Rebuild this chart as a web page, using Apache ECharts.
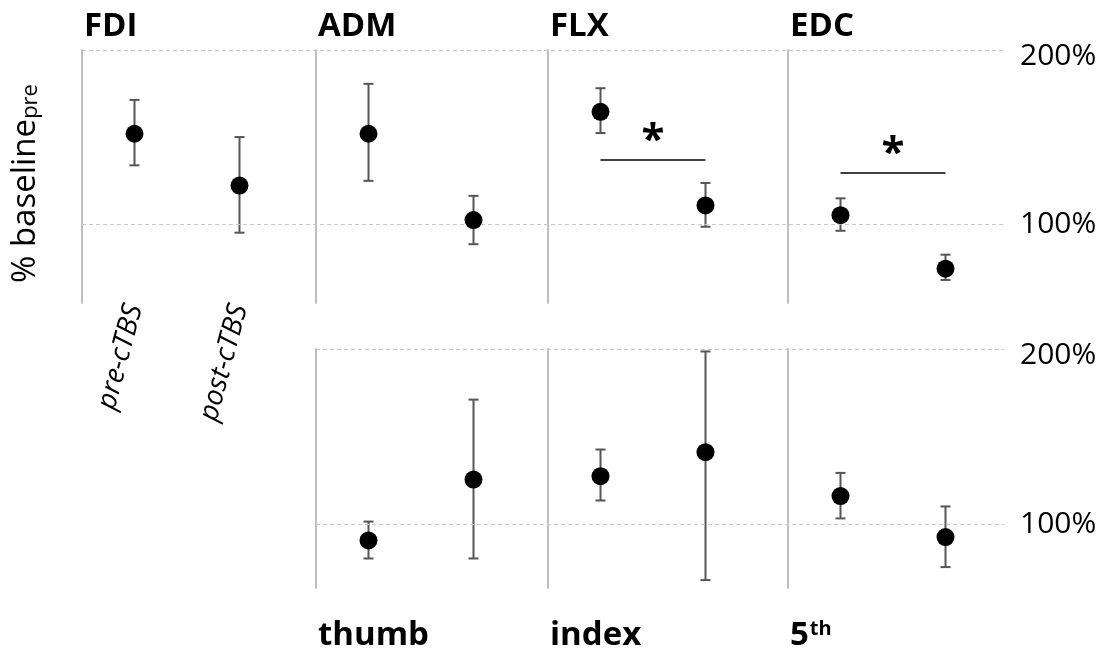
<!DOCTYPE html>
<html>
<head>
<meta charset="utf-8">
<script src="https://cdn.jsdelivr.net/npm/echarts@6/dist/echarts.min.js"></script>
<style>
html, body { margin: 0; padding: 0; background: #fff; }
#main { width: 1108px; height: 655px; }
</style>
</head>
<body>
<div id="main"></div>
<script>
// muscles (top row) and fingers (bottom row)
var musclesTop = ['FDI', 'ADM', 'FLX', 'EDC'];
var fingersBottom = ['thumb', 'index', '5th'];
var phases = ['pre-cTBS', 'post-cTBS'];

// mean % baseline, [pre, post]
var meanTop = [[152.0, 122.3], [152.0, 102.5], [164.6, 110.9], [105.3, 74.7]];
var lowTop = [[133.9, 95.3], [125.0, 88.7], [152.4, 98.7], [96.4, 68.2]];
var highTop = [[171.4, 150.1], [180.6, 116.4], [178.1, 123.8], [115.0, 82.7]];

var meanBottom = [[91.1, 125.7], [127.6, 141.3], [116.3, 93.0]];
var lowBottom = [[80.8, 80.8], [113.8, 68.5], [103.6, 75.9]];
var highBottom = [[101.8, 171.2], [142.8, 198.6], [129.5, 110.4]];

// significance bars
var sigPanels = ['FLX', 'EDC'];
var sigLevels = [137.1, 129.5];
var sigMarks = ['*', '*'];

var tickValues = [100, 200];
var tickLabels = ['100%', '200%'];

var FONT = 'Open Sans';

function p1() {
	var myChart = echarts.init(document.getElementById('main'));
	var colLeft = [82, 316, 548, 788];
	var rows = [
		{ top: 50, height: 253, min: 55 },
		{ top: 349, height: 239, min: 64 }
	];

	var panels = [];
	for (var i = 0; i < musclesTop.length; i++) {
		panels.push({ name: musclesTop[i], col: i, row: 0, mean: meanTop[i], lo: lowTop[i], hi: highTop[i] });
	}
	for (var j = 0; j < fingersBottom.length; j++) {
		panels.push({ name: fingersBottom[j], col: j + 1, row: 1, mean: meanBottom[j], lo: lowBottom[j], hi: highBottom[j] });
	}

	var grid = [], xAxis = [], yAxis = [], series = [], title = [];

	function renderErr(params, api) {
		var x = api.value(0);
		var a = api.coord([x, api.value(2)]);
		var b = api.coord([x, api.value(1)]);
		var hw = 5;
		var st = { stroke: '#555', lineWidth: 2 };
		return {
			type: 'group',
			children: [
				{ type: 'line', shape: { x1: a[0], y1: a[1], x2: b[0], y2: b[1] }, style: st },
				{ type: 'line', shape: { x1: a[0] - hw, y1: a[1], x2: a[0] + hw, y2: a[1] }, style: st },
				{ type: 'line', shape: { x1: b[0] - hw, y1: b[1], x2: b[0] + hw, y2: b[1] }, style: st }
			]
		};
	}

	panels.forEach(function(p, k) {
		var r = rows[p.row];
		grid.push({ left: colLeft[p.col], top: r.top, width: 210, height: r.height });
		xAxis.push({
			type: 'category',
			gridIndex: k,
			data: phases,
			boundaryGap: true,
			axisLine: { show: false },
			axisTick: { show: false },
			axisLabel: {
				show: k === 0,
				interval: 0,
				rotate: 75,
				margin: 2,
				fontStyle: 'italic',
				fontFamily: FONT,
				fontSize: 28,
				color: '#000'
			}
		});
		var ya = {
			type: 'value',
			gridIndex: k,
			min: r.min,
			max: 200,
			axisLine: { show: true, lineStyle: { color: '#bfbfbf', width: 2 } },
			axisTick: { show: false },
			axisLabel: { show: false },
			splitLine: { show: false }
		};
		if (k === 0) {
			ya.name = '% baseline{sub|pre}';
			ya.nameLocation = 'middle';
			ya.nameRotate = 90;
			ya.nameGap = 40;
			ya.nameTextStyle = {
				fontFamily: FONT,
				fontSize: 33,
				color: '#000',
				padding: [0, 14, 0, 0],
				rich: {
					sub: { fontFamily: FONT, fontSize: 22, color: '#000', verticalAlign: 'bottom', padding: [10, 0, 0, 0] }
				}
			};
		}
		yAxis.push(ya);

		var errData = [], dots = [];
		for (var c = 0; c < phases.length; c++) {
			errData.push([c, p.lo[c], p.hi[c]]);
			dots.push([c, p.mean[c]]);
		}
		series.push({
			type: 'custom',
			xAxisIndex: k,
			yAxisIndex: k,
			renderItem: renderErr,
			data: errData,
			z: 3,
			silent: true
		});
		var sc = {
			type: 'scatter',
			xAxisIndex: k,
			yAxisIndex: k,
			symbolSize: 18,
			itemStyle: { color: '#000', opacity: 1 },
			data: dots,
			z: 5
		};
		var si = sigPanels.indexOf(p.name);
		if (si >= 0) {
			sc.markLine = {
				silent: true,
				symbol: 'none',
				lineStyle: { color: '#000', width: 1.5, type: 'solid' },
				label: {
					show: true,
					position: 'middle',
					formatter: sigMarks[si],
					fontFamily: FONT,
					fontSize: 42,
					fontWeight: 'bold',
					color: '#000',
					distance: -2
				},
				data: [[{ coord: [0, sigLevels[si]] }, { coord: [1, sigLevels[si]] }]]
			};
		}
		series.push(sc);

		var t = p.name === '5th' ? '{a|5}{s|th}' : '{a|' + p.name + '}';
		title.push({
			text: t,
			left: colLeft[p.col] - 3,
			top: p.row === 0 ? 5 : 614,
			textStyle: {
				rich: {
					a: { fontFamily: FONT, fontWeight: 'bold', fontSize: 33, color: '#000' },
					s: { fontFamily: FONT, fontWeight: 'bold', fontSize: 20, color: '#000', verticalAlign: 'top', padding: [0, 0, 0, 1] }
				}
			}
		});
	});

	// background grids carrying the dashed 100% / 200% lines and right labels
	var bgRows = [
		{ left: 82, width: 922, row: 0 },
		{ left: 316, width: 688, row: 1 }
	];
	bgRows.forEach(function(b) {
		var r = rows[b.row];
		var gi = grid.length;
		grid.push({ left: b.left, top: r.top, width: b.width, height: r.height });
		xAxis.push({ type: 'value', gridIndex: gi, min: 0, max: 1, show: false });
		yAxis.push({ type: 'value', gridIndex: gi, min: r.min, max: 200, show: false });
		var ml = [];
		for (var q = 0; q < tickValues.length; q++) {
			ml.push({
				yAxis: tickValues[q],
				label: { formatter: tickLabels[q], offset: [0, tickValues[q] === 200 ? 6 : 0] }
			});
		}
		series.push({
			type: 'line',
			xAxisIndex: gi,
			yAxisIndex: gi,
			data: [],
			z: 1,
			markLine: {
				silent: true,
				symbol: 'none',
				lineStyle: { color: '#c8c8c8', width: 1, type: [4, 3] },
				label: {
					show: true,
					position: 'end',
					distance: 16,
					fontFamily: FONT,
					fontSize: 30,
					color: '#000'
				},
				data: ml
			}
		});
	});

	var option = {
		backgroundColor: '#fff',
		animation: false,
		title: title,
		grid: grid,
		xAxis: xAxis,
		yAxis: yAxis,
		series: series
	};
	myChart.setOption(option);
}

p1();
</script>
</body>
</html>
